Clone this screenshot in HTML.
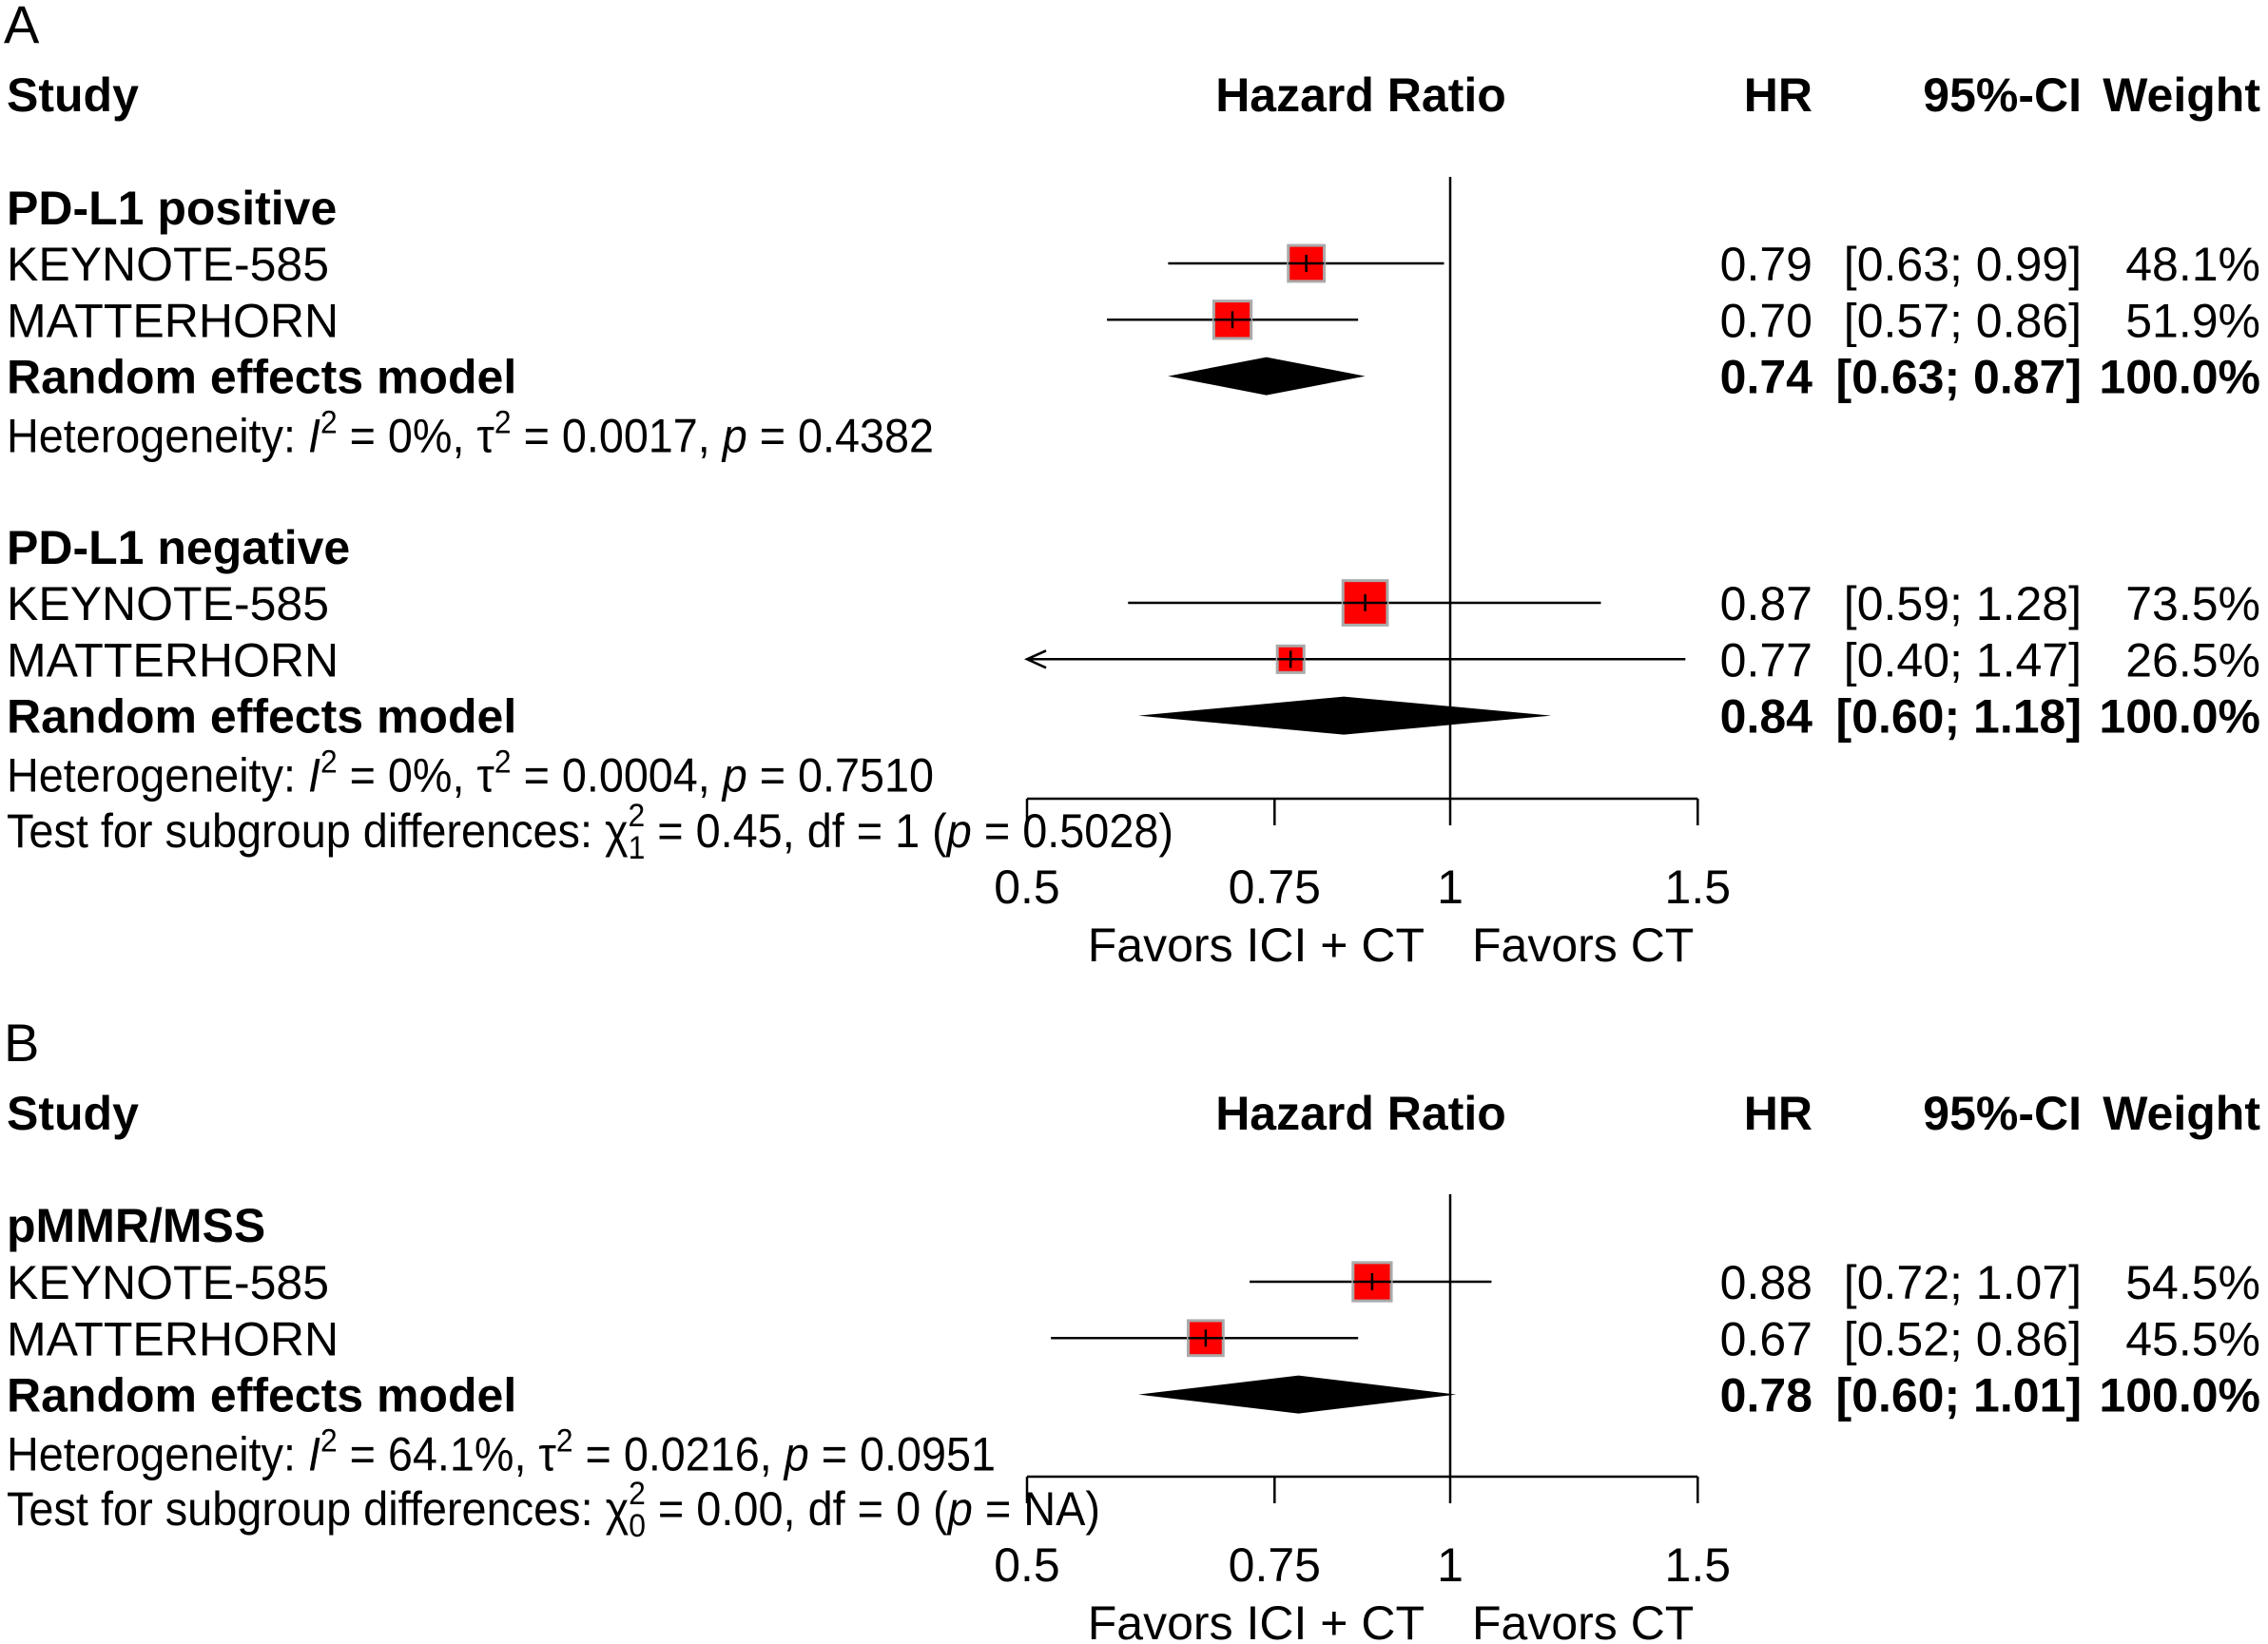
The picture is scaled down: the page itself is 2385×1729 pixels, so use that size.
<!DOCTYPE html>
<html><head><meta charset="utf-8"><style>
html,body{margin:0;padding:0;background:#fff}
svg{display:block;font-family:"Liberation Sans",Arial,sans-serif}
</style></head><body>
<svg id="plot" width="2385" height="1729" viewBox="0 0 2385 1729" xmlns="http://www.w3.org/2000/svg"></svg>
<script>
// ---- data ----
const studiesA1 = ["KEYNOTE-585","MATTERHORN"];
const hrA1 = [0.79,0.70], loA1 = [0.63,0.57], hiA1 = [0.99,0.86], wA1 = [48.1,51.9];
const reA1 = [0.74,0.63,0.87];
const hetA1 = ["0%","0.0017","0.4382"];
const studiesA2 = ["KEYNOTE-585","MATTERHORN"];
const hrA2 = [0.87,0.77], loA2 = [0.59,0.40], hiA2 = [1.28,1.47], wA2 = [73.5,26.5];
const reA2 = [0.84,0.60,1.18];
const hetA2 = ["0%","0.0004","0.7510"];
const studiesB = ["KEYNOTE-585","MATTERHORN"];
const hrB = [0.88,0.67], loB = [0.72,0.52], hiB = [1.07,0.86], wB = [54.5,45.5];
const reB = [0.78,0.60,1.01];
const hetB = ["64.1%","0.0216","0.0951"];
const ticks = [0.5,0.75,1,1.5];
const tickLabels = ["0.5","0.75","1","1.5"];

const NS="http://www.w3.org/2000/svg";
const svg=document.getElementById('plot');
const FS=50;
function xs(v){return 1525+Math.log(v)*642;}
function el(tag,attrs,parent){const e=document.createElementNS(NS,tag);for(const k in attrs)e.setAttribute(k,attrs[k]);(parent||svg).appendChild(e);return e;}
function txt(x,y,s,opt,name){opt=opt||{};const t=el('text',{x:x,y:y+18,'font-size':opt.fs||FS,'text-anchor':opt.anchor||'start','font-weight':opt.bold?'bold':'normal',fill:'#000'});


t.textContent=s;return t;}
function f2(v){return v.toFixed(2);}

function het(y,vals,len,name){
  const t=el('text',{x:7,y:y+18,'font-size':FS,textLength:len,lengthAdjust:'spacingAndGlyphs'});
  
  
  t.innerHTML='Heterogeneity: <tspan font-style="italic">I</tspan><tspan dy="-20" font-size="34">2</tspan><tspan dy="20"> = '+vals[0]+', τ</tspan><tspan dy="-20" font-size="34">2</tspan><tspan dy="20"> = '+vals[1]+', </tspan><tspan font-style="italic">p</tspan> = '+vals[2];
}
function test(y,sub,rest,len,name){
  const t=el('text',{x:7,y:y+18,'font-size':FS,textLength:len,lengthAdjust:'spacingAndGlyphs'});
  
  
  t.innerHTML='Test for subgroup differences: χ<tspan dy="12" font-size="34">'+sub+'</tspan><tspan dx="-19" dy="-34" font-size="34">2</tspan><tspan dy="22"> = '+rest[0]+', df = '+rest[1]+' (</tspan><tspan font-style="italic">p</tspan> = '+rest[2]+')';
}

function header(y,letterY,letter){
  txt(4,letterY,letter,{fs:56},'panel-label-'+letter.toLowerCase());
  txt(7,y,'Study',{bold:true},'study-header');
  txt(1431,y,'Hazard Ratio',{bold:true,anchor:'middle'},'hazard-ratio-header');
  txt(1906,y,'HR',{bold:true,anchor:'end'},'hr-header');
  txt(2189,y,'95%-CI',{bold:true,anchor:'end'},'ci-header');
  txt(2377,y,'Weight',{bold:true,anchor:'end'},'weight-header');
}

function group(title,titleY,rowY,names,hr,lo,hi,w,re,hetv,hetLen,key){
  txt(7,titleY,title,{bold:true},'subgroup-title-'+key);
  for(let i=0;i<names.length;i++){
    const y=rowY+i*59.3;
    txt(7,y,names[i],{},'study-label-'+key+'-'+i);
    let x1=xs(Math.max(lo[i],0.5)), x2=xs(Math.min(hi[i],1.5));
    const ln=el('line',{x1:x1,y1:y,x2:x2,y2:y,stroke:'#000','stroke-width':2.5});
    
    
    if(lo[i]<0.5){
      const ar=el('path',{d:`M${x1+20},${y-9} L${x1},${y} L${x1+20},${y+9}`,fill:'none',stroke:'#000','stroke-width':2.5});
      
      
    }
    const s=5.45*Math.sqrt(w[i]);
    const sq=el('rect',{x:xs(hr[i])-s/2,y:y-s/2,width:s,height:s,fill:'#ff0000',stroke:'#aaaaaa','stroke-width':3});
    
    
    const h=el('line',{x1:xs(hr[i])-s/2,y1:y,x2:xs(hr[i])+s/2,y2:y,stroke:'#000','stroke-width':2.5});
    
    
    const c=el('line',{x1:xs(hr[i]),y1:y-9,x2:xs(hr[i]),y2:y+9,stroke:'#000','stroke-width':2.5});
    
    
    txt(1906,y,f2(hr[i]),{anchor:'end'},'hr-value-'+key+'-'+i);
    txt(2189,y,'['+f2(lo[i])+'; '+f2(hi[i])+']',{anchor:'end'},'ci-value-'+key+'-'+i);
    txt(2377,y,w[i].toFixed(1)+'%',{anchor:'end'},'weight-value-'+key+'-'+i);
  }
  const y=rowY+names.length*59.3;
  txt(7,y,'Random effects model',{bold:true},'random-effects-label-'+key);
  const d=el('polygon',{points:`${xs(re[1])},${y} ${xs(re[0])},${y-20} ${xs(re[2])},${y} ${xs(re[0])},${y+20}`,fill:'#000'});
  
  
  txt(1906,y,f2(re[0]),{anchor:'end',bold:true},'pooled-hr-'+key);
  txt(2189,y,'['+f2(re[1])+'; '+f2(re[2])+']',{anchor:'end',bold:true},'pooled-ci-'+key);
  txt(2377,y,'100.0%',{anchor:'end',bold:true},'pooled-weight-'+key);
  het(y+62,hetv,hetLen,'heterogeneity-'+key);
}

function axis(top,axY,key){
  const v=el('line',{x1:xs(1),y1:top,x2:xs(1),y2:axY,stroke:'#000','stroke-width':2.5});
  
  
  const a=el('line',{x1:xs(ticks[0]),y1:axY,x2:xs(ticks[ticks.length-1]),y2:axY,stroke:'#000','stroke-width':2.5});
  
  
  for(let i=0;i<ticks.length;i++){
    const t=el('line',{x1:xs(ticks[i]),y1:axY,x2:xs(ticks[i]),y2:axY+28,stroke:'#000','stroke-width':2.5});
    
    
    txt(xs(ticks[i]),axY+92,tickLabels[i],{anchor:'middle'},'x-tick-label-'+key+'-'+i);
  }
  txt(1498,axY+153,'Favors ICI + CT',{anchor:'end'},'favors-ici-label-'+key);
  txt(1548,axY+153,'Favors CT',{},'favors-ct-label-'+key);
}

// Panel A
header(99,27,'A');
axis(186,840,'a');
group('PD-L1 positive',218,277,studiesA1,hrA1,loA1,hiA1,wA1,reA1,hetA1,975,'a-pos');
group('PD-L1 negative',575,634,studiesA2,hrA2,loA2,hiA2,wA2,reA2,hetA2,975,'a-neg');
test(873,'1',['0.45','1','0.5028'],1227,'subgroup-test-a');
// Panel B
header(1170,1098,'B');
axis(1256,1553,'b');
group('pMMR/MSS',1288,1348,studiesB,hrB,loB,hiB,wB,reB,hetB,1040,'b');
test(1586,'0',['0.00','0','NA'],1150,'subgroup-test-b');
</script>
</body></html>
